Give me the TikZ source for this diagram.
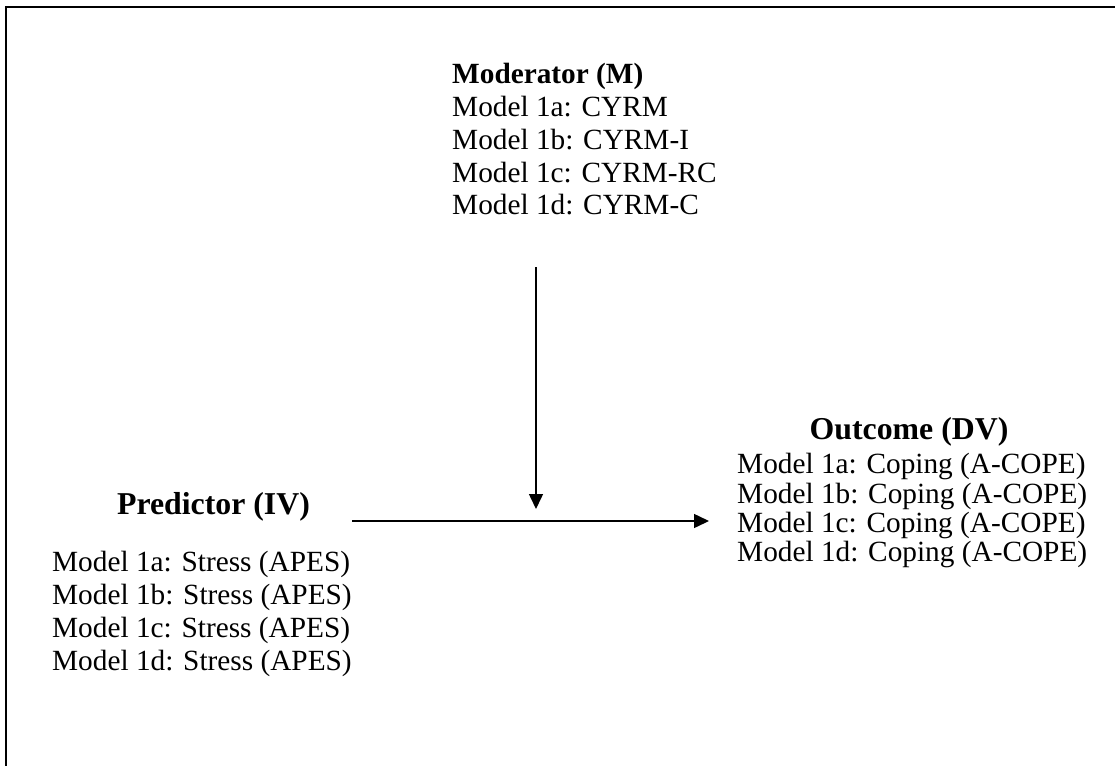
\documentclass[tikz,border=0pt]{standalone}
\usepackage{fontspec}
\setmainfont{Liberation Serif}
\usetikzlibrary{arrows.meta}
\begin{document}
\begin{tikzpicture}[x=1pt,y=-1pt,
  txt/.style={anchor=base west, inner sep=0pt, font=\fontsize{29.3}{33}\selectfont},
  ttl/.style={txt, font=\fontsize{29.3}{33}\selectfont\bfseries},
  bigttl/.style={anchor=base, inner sep=0pt, font=\fontsize{31.8}{36}\selectfont\bfseries},
  link/.style={line width=1.5pt, -{Triangle[length=15pt,width=14pt]}},
  frame/.style={line width=2.5pt}]
\useasboundingbox (0,0) rectangle (1115,765);
% frame: only its top and left edges fall inside the page
\begin{scope}
  \clip (0,0) rectangle (1115,765);
  \draw[frame] (1125,7) -- (6,7) -- (6,775);
\end{scope}

% moderator
\node[ttl] (modT) at (452,84) {Moderator (M)};
\node[txt] (mod1) at (452,117) {Model 1a: CYRM};
\node[txt] (mod2) at (452,149) {Model 1b: CYRM-I};
\node[txt] (mod3) at (452,182) {Model 1c: CYRM-RC};
\node[txt] (mod4) at (452,214) {Model 1d: CYRM-C};

% predictor
\node[bigttl] (preT) at (213.5,514) {Predictor (IV)};
\node[txt] (pre1) at (52,571) {Model 1a: Stress (APES)};
\node[txt] (pre2) at (52,604) {Model 1b: Stress (APES)};
\node[txt] (pre3) at (52,637) {Model 1c: Stress (APES)};
\node[txt] (pre4) at (52,670) {Model 1d: Stress (APES)};

% outcome
\node[bigttl] (outT) at (909,439) {Outcome (DV)};
\node[txt] (out1) at (737,473) {Model 1a: Coping (A-COPE)};
\node[txt] (out2) at (737,503) {Model 1b: Coping (A-COPE)};
\node[txt] (out3) at (737,532) {Model 1c: Coping (A-COPE)};
\node[txt] (out4) at (737,561) {Model 1d: Coping (A-COPE)};

% paths
\coordinate (modStart) at (536,267);
\coordinate (modEnd) at (536,509);
\coordinate (ivStart) at (352,521);
\coordinate (dvEnd) at (709,521);
\draw[link] (modStart) -- (modEnd);
\draw[link] (ivStart) -- (dvEnd);
\end{tikzpicture}
\end{document}
